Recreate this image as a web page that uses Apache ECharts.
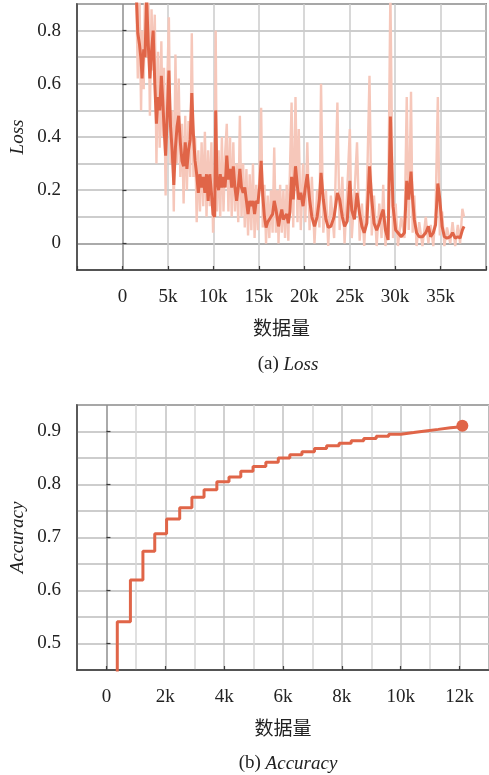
<!DOCTYPE html>
<html><head><meta charset="utf-8">
<script src="https://cdn.jsdelivr.net/npm/echarts@6/dist/echarts.min.js"></script>
<style>html,body{margin:0;padding:0;background:#fff}#c{width:489px;height:775px}</style>
</head><body><div id="c"></div>
<script>
// ---- Loss chart data (x in thousands of samples) ----
const lossX = [1.51,1.69,1.87,2.05,2.16,2.34,2.48,2.66,2.84,3.02,
 3.20,3.38,3.56,3.74,3.92,4.10,4.28,4.43,4.57,4.75,
 4.93,5.11,5.29,5.47,5.65,5.83,6.01,6.19,6.37,6.55,
 6.73,6.91,7.09,7.27,7.45,7.63,7.81,7.99,8.17,8.35,
 8.53,8.71,8.89,9.07,9.25,9.43,9.61,9.79,9.97,10.15,
 10.26,10.40,10.58,10.76,10.94,11.12,11.30,11.48,11.66,11.84,
 12.02,12.20,12.38,12.56,12.74,12.92,13.10,13.28,13.46,13.64,
 13.82,14.00,14.18,14.36,14.54,14.72,14.90,15.08,15.26,15.44,
 15.62,15.80,15.98,16.16,16.34,16.52,16.70,16.88,17.06,17.17,
 17.35,17.53,17.71,17.89,18.07,18.25,18.43,18.61,18.79,19.04,
 19.26,19.40,19.62,19.87,20.12,20.34,20.59,20.84,21.13,21.42,
 21.67,21.85,22.10,22.39,22.64,22.93,23.29,23.65,23.90,24.19,
 24.44,24.73,25.02,25.23,25.52,25.81,26.10,26.35,26.60,26.89,
 27.18,27.43,27.68,27.97,28.26,28.51,28.69,28.94,29.23,29.48,
 29.77,30.06,30.31,30.67,31.03,31.28,31.50,31.75,31.93,32.11,
 32.36,32.65,33.01,33.37,33.66,33.91,34.20,34.45,34.70,34.92,
 35.17,35.42,35.71,36.07,36.32,36.61,36.90,37.15,37.40,37.58];
const lossSmooth = [0.95,0.79,0.75,0.69,0.62,0.73,0.70,0.92,0.75,0.62,
 0.72,0.80,0.60,0.45,0.55,0.50,0.63,0.54,0.44,0.33,
 0.48,0.65,0.44,0.35,0.22,0.36,0.44,0.48,0.38,0.31,
 0.29,0.38,0.28,0.35,0.39,0.565,0.41,0.31,0.26,0.19,
 0.26,0.21,0.25,0.19,0.26,0.16,0.26,0.19,0.11,0.10,
 0.50,0.24,0.20,0.26,0.21,0.25,0.21,0.33,0.24,0.28,
 0.21,0.29,0.21,0.16,0.21,0.28,0.21,0.19,0.21,0.16,
 0.11,0.16,0.14,0.16,0.11,0.16,0.15,0.21,0.31,0.18,
 0.10,0.06,0.08,0.09,0.10,0.11,0.16,0.13,0.09,0.064,
 0.10,0.127,0.09,0.10,0.11,0.076,0.12,0.25,0.165,0.29,
 0.21,0.165,0.19,0.14,0.21,0.26,0.165,0.10,0.064,0.10,
 0.165,0.265,0.165,0.09,0.06,0.064,0.10,0.19,0.165,0.10,
 0.064,0.084,0.235,0.125,0.09,0.19,0.11,0.064,0.04,0.076,
 0.29,0.165,0.076,0.05,0.076,0.11,0.127,0.05,0.013,0.477,
 0.14,0.05,0.04,0.025,0.04,0.235,0.165,0.27,0.165,0.09,
 0.04,0.025,0.025,0.04,0.064,0.025,0.04,0.07,0.225,0.165,
 0.064,0.025,0.02,0.025,0.04,0.02,0.025,0.02,0.05,0.064];
const lossRaw = [0.95,0.62,0.95,0.50,0.80,0.58,0.95,0.70,0.95,0.48,
 0.88,0.65,0.86,0.30,0.72,0.36,0.76,0.40,0.66,0.18,
 0.60,0.85,0.30,0.50,0.12,0.71,0.30,0.62,0.25,0.45,
 0.15,0.48,0.20,0.46,0.25,0.79,0.25,0.40,0.08,0.35,
 0.12,0.38,0.14,0.42,0.10,0.35,0.14,0.38,0.04,0.20,
 0.80,0.12,0.35,0.10,0.40,0.12,0.34,0.45,0.12,0.40,
 0.10,0.38,0.12,0.30,0.08,0.48,0.10,0.30,0.06,0.28,
 0.03,0.26,0.05,0.30,0.02,0.22,0.05,0.28,0.51,0.06,
 0.22,0.00,0.18,0.02,0.20,0.04,0.36,0.04,0.20,0.00,
 0.22,0.04,0.20,0.02,0.22,0.01,0.28,0.53,0.06,0.55,
 0.08,0.43,0.05,0.30,0.08,0.38,0.05,0.25,0.00,0.20,
 0.06,0.60,0.04,0.20,-0.01,0.18,0.02,0.53,0.05,0.25,
 0.00,0.20,0.43,0.02,0.18,0.38,0.01,0.15,-0.01,0.18,
 0.63,0.03,0.18,-0.01,0.15,0.02,0.22,-0.01,0.10,0.95,
 0.02,0.15,-0.01,0.10,0.02,0.55,0.05,0.57,0.04,0.18,
 -0.01,0.08,-0.01,0.10,0.00,0.07,-0.01,0.12,0.55,0.03,
 0.12,-0.01,0.06,0.00,0.08,-0.01,0.07,0.00,0.13,0.10];
const lossXTicks = [0,5,10,15,20,25,30,35];
const lossYTicks = [0,0.2,0.4,0.6,0.8];

// ---- Accuracy chart data (x in thousands of samples) ----
const accX = [0.369,0.369,0.815,1.240,1.642,2.044,2.490,2.905,3.317,3.752,
 4.165,4.566,4.982,5.417,5.840,6.231,6.644,7.069,7.481,7.906,
 8.318,8.743,9.168,9.593,10.005,10.440,10.842,11.276,11.690,12.094];
const accY = [0.40,0.541,0.620,0.674,0.707,0.735,0.756,0.776,0.790,0.805,
 0.814,0.825,0.834,0.842,0.850,0.856,0.862,0.868,0.873,0.878,
 0.8825,0.887,0.891,0.895,0.898,0.901,0.904,0.907,0.909,0.911];
const accXTicks = [0,2,4,6,8,10,12];
const accYTicks = [0.5,0.6,0.7,0.8,0.9];

const FONT = "'Liberation Serif','Times New Roman','Noto Sans CJK SC',serif";
const TXT = '#222';
const AX = '#3a3a3a';
const ZERO = '#8e8e8e';
const GRIDV = '#cbcbcb';
const GRIDH = '#bdbdbd';
const RED = '#E06548';
const PINK = '#F6C7BA';

function colorsFor(min, max, step, fn){
  const out = [];
  for (let i = 0; min + i*step <= max + 1e-9; i++) out.push(fn(+(min + i*step).toFixed(4)));
  return out;
}
const fmtK = v => v === 0 ? '0' : v + 'k';
const capRich = {
  n: {fontFamily: FONT, fontSize: 19, fontWeight: 'normal', color: TXT},
  i: {fontFamily: FONT, fontSize: 19, fontWeight: 'normal', fontStyle: 'italic', color: TXT}
};

const chart = echarts.init(document.getElementById('c'), null, {renderer:'canvas'});
const option = {
  animation: false,
  backgroundColor: '#fff',
  textStyle: {fontFamily: FONT, color: TXT},
  title: [
    {text: '{n|(a) }{i|Loss}', left: 288, top: 355, textAlign: 'center', padding: 0,
     textStyle: {fontWeight: 'normal', rich: capRich}},
    {text: '{n|(b) }{i|Accuracy}', left: 288, top: 754, textAlign: 'center', padding: 0,
     textStyle: {fontWeight: 'normal', rich: capRich}}
  ],
  grid: [
    {left: 75, top: 4, width: 417, height: 266, show: true, borderColor: AX, borderWidth: 1.5, backgroundColor: 'transparent'},
    {left: 75, top: 405, width: 418, height: 265, show: true, borderColor: AX, borderWidth: 1.5, backgroundColor: 'transparent'}
  ],
  xAxis: [
    {type: 'value', gridIndex: 0, min: -5, max: 40, interval: 5,
     name: '数据量', nameLocation: 'middle', nameGap: 51,
     nameTextStyle: {fontFamily: FONT, fontSize: 19, color: TXT},
     axisLine: {show: true, onZero: false, lineStyle: {color: AX, width: 1.5}},
     axisTick: {show: true, inside: true, length: 4, lineStyle: {color: AX, width: 1.2}},
     axisLabel: {fontFamily: FONT, fontSize: 19, color: TXT, margin: 18,
       formatter: v => lossXTicks.indexOf(v) >= 0 ? fmtK(v) : ''},
     splitLine: {show: true, lineStyle: {width: 1.5, color: colorsFor(-5, 40, 5, v => v === 0 ? ZERO : GRIDV)}}},
    {type: 'value', gridIndex: 1, min: -1, max: 13, interval: 1,
     name: '数据量', nameLocation: 'middle', nameGap: 51,
     nameTextStyle: {fontFamily: FONT, fontSize: 19, color: TXT},
     axisLine: {show: true, onZero: false, lineStyle: {color: AX, width: 1.5}},
     axisTick: {show: false}, axisLabel: {show: false},
     splitLine: {show: true, lineStyle: {width: 1.5, color: colorsFor(-1, 13, 1, v => v === 0 ? ZERO : (v % 2 === 0 ? '#c2c2c2' : '#d6d6d6'))}}},
    {type: 'value', gridIndex: 1, min: -1, max: 13, position: 'bottom',
     axisLine: {show: false},
     axisTick: {show: true, inside: true, length: 4, customValues: accXTicks, lineStyle: {color: AX, width: 1.2}},
     axisLabel: {show: true, customValues: accXTicks, fontFamily: FONT, fontSize: 19, color: TXT, margin: 18, formatter: fmtK},
     splitLine: {show: false}}
  ],
  yAxis: [
    {type: 'value', gridIndex: 0, min: -0.1, max: 0.9, interval: 0.1,
     name: 'Loss', nameLocation: 'middle', nameGap: 50,
     nameTextStyle: {fontFamily: FONT, fontSize: 19, fontStyle: 'italic', color: TXT},
     axisLine: {show: true, onZero: false, lineStyle: {color: AX, width: 1.5}},
     axisTick: {show: false}, axisLabel: {show: false},
     splitLine: {show: true, lineStyle: {width: 1.5, color: colorsFor(-0.1, 0.9, 0.1, v => v === 0 ? ZERO : GRIDH)}}},
    {type: 'value', gridIndex: 0, min: -0.1, max: 0.9, position: 'left',
     axisLine: {show: false},
     axisTick: {show: true, inside: true, length: 4, customValues: lossYTicks, lineStyle: {color: AX, width: 1.2}},
     axisLabel: {show: true, customValues: lossYTicks, fontFamily: FONT, fontSize: 19, color: TXT, margin: 16},
     splitLine: {show: false}},
    {type: 'value', gridIndex: 1, min: 0.45, max: 0.95, interval: 0.05,
     name: 'Accuracy', nameLocation: 'middle', nameGap: 50,
     nameTextStyle: {fontFamily: FONT, fontSize: 19, fontStyle: 'italic', color: TXT},
     axisLine: {show: true, onZero: false, lineStyle: {color: AX, width: 1.5}},
     axisTick: {show: false}, axisLabel: {show: false},
     splitLine: {show: true, lineStyle: {width: 1.5, color: GRIDH}}},
    {type: 'value', gridIndex: 1, min: 0.45, max: 0.95, position: 'left',
     axisLine: {show: false},
     axisTick: {show: true, inside: true, length: 4, customValues: accYTicks, lineStyle: {color: AX, width: 1.2}},
     axisLabel: {show: true, customValues: accYTicks, fontFamily: FONT, fontSize: 19, color: TXT, margin: 16},
     splitLine: {show: false}}
  ],
  series: [
    {type: 'line', xAxisIndex: 0, yAxisIndex: 0, data: lossX.map((x, i) => [x, lossRaw[i]]),
     showSymbol: false, lineStyle: {color: PINK, width: 2.4}, z: 2, clip: true},
    {type: 'line', xAxisIndex: 0, yAxisIndex: 0, data: lossX.map((x, i) => [x, lossSmooth[i]]),
     showSymbol: false, lineStyle: {color: RED, width: 3}, z: 3, clip: true},
    {type: 'line', xAxisIndex: 1, yAxisIndex: 2, step: 'end', data: accX.map((x, i) => [x, accY[i]]),
     showSymbol: true, symbol: 'circle',
     symbolSize: (v, p) => p.dataIndex === accX.length - 1 ? 12 : 0,
     itemStyle: {color: RED}, lineStyle: {color: RED, width: 3}, z: 3, clip: true}
  ]
};
chart.setOption(option);
</script>
</body></html>
